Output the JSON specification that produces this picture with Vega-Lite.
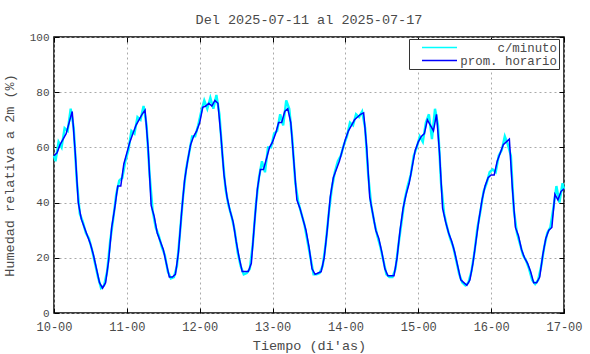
{
"$schema":"https://vega.github.io/schema/vega-lite/v6.json",
"width":510,"height":276,
"autosize":{"type":"none"},
"padding":{"left":54,"top":37,"right":26,"bottom":41},
"background":"white",
"title":{"text":"Del 2025-07-11 al 2025-07-17","font":"Liberation Mono","fontSize":13.5,"fontWeight":"normal","color":"#4a4a4a","anchor":"middle","offset":5},
"config":{"view":{"stroke":"black","strokeWidth":1.5},
"axis":{"labelFont":"Liberation Mono","titleFont":"Liberation Mono","labelColor":"#4a4a4a","titleColor":"#4a4a4a","titleFontWeight":"normal","domain":false,"tickColor":"black","tickSize":-5,"gridColor":"#aaaaaa","gridDash":[2,3],"labelFontWeight":"normal"}},
"datasets":{
"horario":[
{"t":"2025-07-10T00:00Z","h":57},{"t":"2025-07-10T01:00Z","h":58},{"t":"2025-07-10T02:00Z","h":61},{"t":"2025-07-10T03:00Z","h":63},{"t":"2025-07-10T04:00Z","h":65},{"t":"2025-07-10T05:00Z","h":69},{"t":"2025-07-10T06:00Z","h":73},{"t":"2025-07-10T07:00Z","h":58},{"t":"2025-07-10T08:00Z","h":40},{"t":"2025-07-10T09:00Z","h":34},{"t":"2025-07-10T10:00Z","h":31},{"t":"2025-07-10T11:00Z","h":28},{"t":"2025-07-10T12:00Z","h":25},{"t":"2025-07-10T13:00Z","h":21},{"t":"2025-07-10T14:00Z","h":16},{"t":"2025-07-10T15:00Z","h":11},{"t":"2025-07-10T16:00Z","h":9},{"t":"2025-07-10T17:00Z","h":11},{"t":"2025-07-10T18:00Z","h":19},{"t":"2025-07-10T19:00Z","h":31},{"t":"2025-07-10T20:00Z","h":38},{"t":"2025-07-10T21:00Z","h":46},{"t":"2025-07-10T22:00Z","h":46},{"t":"2025-07-10T23:00Z","h":54},
{"t":"2025-07-11T00:00Z","h":58},{"t":"2025-07-11T01:00Z","h":62},{"t":"2025-07-11T02:00Z","h":65},{"t":"2025-07-11T03:00Z","h":68},{"t":"2025-07-11T04:00Z","h":70},{"t":"2025-07-11T05:00Z","h":72},{"t":"2025-07-11T06:00Z","h":73.5},{"t":"2025-07-11T07:00Z","h":60},{"t":"2025-07-11T08:00Z","h":39},{"t":"2025-07-11T09:00Z","h":35},{"t":"2025-07-11T10:00Z","h":29},{"t":"2025-07-11T11:00Z","h":26},{"t":"2025-07-11T12:00Z","h":23},{"t":"2025-07-11T13:00Z","h":18},{"t":"2025-07-11T14:00Z","h":13},{"t":"2025-07-11T15:00Z","h":13},{"t":"2025-07-11T16:00Z","h":14},{"t":"2025-07-11T17:00Z","h":22},{"t":"2025-07-11T18:00Z","h":36},{"t":"2025-07-11T19:00Z","h":48},{"t":"2025-07-11T20:00Z","h":55},{"t":"2025-07-11T21:00Z","h":61},{"t":"2025-07-11T22:00Z","h":64},{"t":"2025-07-11T23:00Z","h":66},
{"t":"2025-07-12T00:00Z","h":69},{"t":"2025-07-12T01:00Z","h":74.5},{"t":"2025-07-12T02:00Z","h":75},{"t":"2025-07-12T03:00Z","h":76},{"t":"2025-07-12T04:00Z","h":75},{"t":"2025-07-12T05:00Z","h":77},{"t":"2025-07-12T06:00Z","h":76},{"t":"2025-07-12T07:00Z","h":64},{"t":"2025-07-12T08:00Z","h":50},{"t":"2025-07-12T09:00Z","h":42},{"t":"2025-07-12T10:00Z","h":37},{"t":"2025-07-12T11:00Z","h":33},{"t":"2025-07-12T12:00Z","h":26},{"t":"2025-07-12T13:00Z","h":20},{"t":"2025-07-12T14:00Z","h":15},{"t":"2025-07-12T15:00Z","h":15},{"t":"2025-07-12T16:00Z","h":15},{"t":"2025-07-12T17:00Z","h":18},{"t":"2025-07-12T18:00Z","h":32},{"t":"2025-07-12T19:00Z","h":45},{"t":"2025-07-12T20:00Z","h":52},{"t":"2025-07-12T21:00Z","h":52},{"t":"2025-07-12T22:00Z","h":56},{"t":"2025-07-12T23:00Z","h":60},
{"t":"2025-07-13T00:00Z","h":62},{"t":"2025-07-13T01:00Z","h":65},{"t":"2025-07-13T02:00Z","h":69},{"t":"2025-07-13T03:00Z","h":69},{"t":"2025-07-13T04:00Z","h":73},{"t":"2025-07-13T05:00Z","h":74},{"t":"2025-07-13T06:00Z","h":69},{"t":"2025-07-13T07:00Z","h":55},{"t":"2025-07-13T08:00Z","h":41},{"t":"2025-07-13T09:00Z","h":38},{"t":"2025-07-13T10:00Z","h":34},{"t":"2025-07-13T11:00Z","h":30},{"t":"2025-07-13T12:00Z","h":24},{"t":"2025-07-13T13:00Z","h":16},{"t":"2025-07-13T14:00Z","h":14},{"t":"2025-07-13T15:00Z","h":14.5},{"t":"2025-07-13T16:00Z","h":15},{"t":"2025-07-13T17:00Z","h":20},{"t":"2025-07-13T18:00Z","h":30},{"t":"2025-07-13T19:00Z","h":42},{"t":"2025-07-13T20:00Z","h":49},{"t":"2025-07-13T21:00Z","h":52},{"t":"2025-07-13T22:00Z","h":55},{"t":"2025-07-13T23:00Z","h":59},
{"t":"2025-07-14T00:00Z","h":63},{"t":"2025-07-14T01:00Z","h":66},{"t":"2025-07-14T02:00Z","h":68},{"t":"2025-07-14T03:00Z","h":70},{"t":"2025-07-14T04:00Z","h":71},{"t":"2025-07-14T05:00Z","h":72},{"t":"2025-07-14T06:00Z","h":72.5},{"t":"2025-07-14T07:00Z","h":60},{"t":"2025-07-14T08:00Z","h":42},{"t":"2025-07-14T09:00Z","h":36},{"t":"2025-07-14T10:00Z","h":30},{"t":"2025-07-14T11:00Z","h":27},{"t":"2025-07-14T12:00Z","h":22},{"t":"2025-07-14T13:00Z","h":16},{"t":"2025-07-14T14:00Z","h":13.5},{"t":"2025-07-14T15:00Z","h":13.5},{"t":"2025-07-14T16:00Z","h":13.5},{"t":"2025-07-14T17:00Z","h":20},{"t":"2025-07-14T18:00Z","h":30},{"t":"2025-07-14T19:00Z","h":38},{"t":"2025-07-14T20:00Z","h":43},{"t":"2025-07-14T21:00Z","h":47},{"t":"2025-07-14T22:00Z","h":53},{"t":"2025-07-14T23:00Z","h":59},
{"t":"2025-07-15T00:00Z","h":62},{"t":"2025-07-15T01:00Z","h":64},{"t":"2025-07-15T02:00Z","h":65},{"t":"2025-07-15T03:00Z","h":70},{"t":"2025-07-15T04:00Z","h":68},{"t":"2025-07-15T05:00Z","h":66},{"t":"2025-07-15T06:00Z","h":72},{"t":"2025-07-15T07:00Z","h":58},{"t":"2025-07-15T08:00Z","h":38},{"t":"2025-07-15T09:00Z","h":33},{"t":"2025-07-15T10:00Z","h":29},{"t":"2025-07-15T11:00Z","h":26},{"t":"2025-07-15T12:00Z","h":22},{"t":"2025-07-15T13:00Z","h":17},{"t":"2025-07-15T14:00Z","h":12},{"t":"2025-07-15T15:00Z","h":11},{"t":"2025-07-15T16:00Z","h":10},{"t":"2025-07-15T17:00Z","h":12},{"t":"2025-07-15T18:00Z","h":18},{"t":"2025-07-15T19:00Z","h":26},{"t":"2025-07-15T20:00Z","h":34},{"t":"2025-07-15T21:00Z","h":41},{"t":"2025-07-15T22:00Z","h":46},{"t":"2025-07-15T23:00Z","h":49},
{"t":"2025-07-16T00:00Z","h":50},{"t":"2025-07-16T01:00Z","h":50},{"t":"2025-07-16T02:00Z","h":55},{"t":"2025-07-16T03:00Z","h":58},{"t":"2025-07-16T04:00Z","h":61},{"t":"2025-07-16T05:00Z","h":62},{"t":"2025-07-16T06:00Z","h":63},{"t":"2025-07-16T07:00Z","h":45},{"t":"2025-07-16T08:00Z","h":31},{"t":"2025-07-16T09:00Z","h":28},{"t":"2025-07-16T10:00Z","h":23},{"t":"2025-07-16T11:00Z","h":20},{"t":"2025-07-16T12:00Z","h":18},{"t":"2025-07-16T13:00Z","h":15},{"t":"2025-07-16T14:00Z","h":11},{"t":"2025-07-16T15:00Z","h":11},{"t":"2025-07-16T16:00Z","h":13},{"t":"2025-07-16T17:00Z","h":21},{"t":"2025-07-16T18:00Z","h":27},{"t":"2025-07-16T19:00Z","h":30},{"t":"2025-07-16T20:00Z","h":31},{"t":"2025-07-16T21:00Z","h":43},{"t":"2025-07-16T22:00Z","h":41},{"t":"2025-07-16T23:00Z","h":44},
{"t":"2025-07-17T00:00Z","h":45}
],
"minuto":[
{"t":"2025-07-10T00:00Z","h":57},
{"t":"2025-07-10T00:30Z","h":55},{"t":"2025-07-10T01:30Z","h":62},{"t":"2025-07-10T02:30Z","h":60},{"t":"2025-07-10T03:30Z","h":67},{"t":"2025-07-10T04:30Z","h":66},{"t":"2025-07-10T05:30Z","h":74},{"t":"2025-07-10T06:30Z","h":67},{"t":"2025-07-10T07:30Z","h":48},{"t":"2025-07-10T08:30Z","h":36},{"t":"2025-07-10T09:30Z","h":33},{"t":"2025-07-10T10:30Z","h":29},{"t":"2025-07-10T11:30Z","h":27},{"t":"2025-07-10T12:30Z","h":23},{"t":"2025-07-10T13:30Z","h":18},{"t":"2025-07-10T14:30Z","h":13},{"t":"2025-07-10T15:30Z","h":9},{"t":"2025-07-10T16:30Z","h":10},{"t":"2025-07-10T17:30Z","h":15},{"t":"2025-07-10T18:30Z","h":26},{"t":"2025-07-10T19:30Z","h":34},{"t":"2025-07-10T20:30Z","h":43},{"t":"2025-07-10T21:30Z","h":48},{"t":"2025-07-10T22:30Z","h":49},{"t":"2025-07-10T23:30Z","h":55},
{"t":"2025-07-11T00:30Z","h":59},{"t":"2025-07-11T01:30Z","h":66},{"t":"2025-07-11T02:30Z","h":65},{"t":"2025-07-11T03:30Z","h":71},{"t":"2025-07-11T04:30Z","h":70},{"t":"2025-07-11T05:30Z","h":75},{"t":"2025-07-11T06:30Z","h":68},{"t":"2025-07-11T07:30Z","h":50},{"t":"2025-07-11T08:30Z","h":37},{"t":"2025-07-11T09:30Z","h":31},{"t":"2025-07-11T10:30Z","h":28},{"t":"2025-07-11T11:30Z","h":24},{"t":"2025-07-11T12:30Z","h":21},{"t":"2025-07-11T13:30Z","h":15},{"t":"2025-07-11T14:30Z","h":12.5},{"t":"2025-07-11T15:30Z","h":13},{"t":"2025-07-11T16:30Z","h":17},{"t":"2025-07-11T17:30Z","h":29},{"t":"2025-07-11T18:30Z","h":42},{"t":"2025-07-11T19:30Z","h":52},{"t":"2025-07-11T20:30Z","h":58},{"t":"2025-07-11T21:30Z","h":64},{"t":"2025-07-11T22:30Z","h":64},{"t":"2025-07-11T23:30Z","h":68},
{"t":"2025-07-12T00:30Z","h":73},{"t":"2025-07-12T01:30Z","h":77},{"t":"2025-07-12T02:30Z","h":74},{"t":"2025-07-12T03:30Z","h":78},{"t":"2025-07-12T04:30Z","h":74},{"t":"2025-07-12T05:30Z","h":79},{"t":"2025-07-12T06:30Z","h":72},{"t":"2025-07-12T07:30Z","h":57},{"t":"2025-07-12T08:30Z","h":45},{"t":"2025-07-12T09:30Z","h":39},{"t":"2025-07-12T10:30Z","h":35},{"t":"2025-07-12T11:30Z","h":30},{"t":"2025-07-12T12:30Z","h":22},{"t":"2025-07-12T13:30Z","h":17},{"t":"2025-07-12T14:30Z","h":14},{"t":"2025-07-12T15:30Z","h":14.5},{"t":"2025-07-12T16:30Z","h":16},{"t":"2025-07-12T17:30Z","h":25},{"t":"2025-07-12T18:30Z","h":39},{"t":"2025-07-12T19:30Z","h":49},{"t":"2025-07-12T20:30Z","h":55},{"t":"2025-07-12T21:30Z","h":51},{"t":"2025-07-12T22:30Z","h":60},{"t":"2025-07-12T23:30Z","h":60},
{"t":"2025-07-13T00:30Z","h":65},{"t":"2025-07-13T01:30Z","h":66},{"t":"2025-07-13T02:30Z","h":72},{"t":"2025-07-13T03:30Z","h":68},{"t":"2025-07-13T04:30Z","h":77},{"t":"2025-07-13T05:30Z","h":74},{"t":"2025-07-13T06:30Z","h":63},{"t":"2025-07-13T07:30Z","h":47},{"t":"2025-07-13T08:30Z","h":40},{"t":"2025-07-13T09:30Z","h":36},{"t":"2025-07-13T10:30Z","h":32},{"t":"2025-07-13T11:30Z","h":26},{"t":"2025-07-13T12:30Z","h":20},{"t":"2025-07-13T13:30Z","h":14},{"t":"2025-07-13T14:30Z","h":14},{"t":"2025-07-13T15:30Z","h":14.5},{"t":"2025-07-13T16:30Z","h":17},{"t":"2025-07-13T17:30Z","h":25},{"t":"2025-07-13T18:30Z","h":36},{"t":"2025-07-13T19:30Z","h":45},{"t":"2025-07-13T20:30Z","h":51},{"t":"2025-07-13T21:30Z","h":55},{"t":"2025-07-13T22:30Z","h":57},{"t":"2025-07-13T23:30Z","h":61},
{"t":"2025-07-14T00:30Z","h":64},{"t":"2025-07-14T01:30Z","h":69},{"t":"2025-07-14T02:30Z","h":68},{"t":"2025-07-14T03:30Z","h":72},{"t":"2025-07-14T04:30Z","h":71},{"t":"2025-07-14T05:30Z","h":73},{"t":"2025-07-14T06:30Z","h":67},{"t":"2025-07-14T07:30Z","h":50},{"t":"2025-07-14T08:30Z","h":39},{"t":"2025-07-14T09:30Z","h":33},{"t":"2025-07-14T10:30Z","h":28},{"t":"2025-07-14T11:30Z","h":24},{"t":"2025-07-14T12:30Z","h":19},{"t":"2025-07-14T13:30Z","h":14},{"t":"2025-07-14T14:30Z","h":13},{"t":"2025-07-14T15:30Z","h":13},{"t":"2025-07-14T16:30Z","h":16},{"t":"2025-07-14T17:30Z","h":25},{"t":"2025-07-14T18:30Z","h":33},{"t":"2025-07-14T19:30Z","h":41},{"t":"2025-07-14T20:30Z","h":46},{"t":"2025-07-14T21:30Z","h":50},{"t":"2025-07-14T22:30Z","h":57},{"t":"2025-07-14T23:30Z","h":60},
{"t":"2025-07-15T00:30Z","h":64},{"t":"2025-07-15T01:30Z","h":62},{"t":"2025-07-15T02:30Z","h":69},{"t":"2025-07-15T03:30Z","h":72},{"t":"2025-07-15T04:30Z","h":63},{"t":"2025-07-15T05:30Z","h":74},{"t":"2025-07-15T06:30Z","h":68},{"t":"2025-07-15T07:30Z","h":47},{"t":"2025-07-15T08:30Z","h":36},{"t":"2025-07-15T09:30Z","h":31},{"t":"2025-07-15T10:30Z","h":27},{"t":"2025-07-15T11:30Z","h":24},{"t":"2025-07-15T12:30Z","h":19},{"t":"2025-07-15T13:30Z","h":14},{"t":"2025-07-15T14:30Z","h":11},{"t":"2025-07-15T15:30Z","h":10},{"t":"2025-07-15T16:30Z","h":11},{"t":"2025-07-15T17:30Z","h":15},{"t":"2025-07-15T18:30Z","h":22},{"t":"2025-07-15T19:30Z","h":31},{"t":"2025-07-15T20:30Z","h":37},{"t":"2025-07-15T21:30Z","h":44},{"t":"2025-07-15T22:30Z","h":47},{"t":"2025-07-15T23:30Z","h":51},
{"t":"2025-07-16T00:30Z","h":52},{"t":"2025-07-16T01:30Z","h":51},{"t":"2025-07-16T02:30Z","h":57},{"t":"2025-07-16T03:30Z","h":59},{"t":"2025-07-16T04:30Z","h":64},{"t":"2025-07-16T05:30Z","h":61},{"t":"2025-07-16T06:30Z","h":57},{"t":"2025-07-16T07:30Z","h":37},{"t":"2025-07-16T08:30Z","h":29},{"t":"2025-07-16T09:30Z","h":25},{"t":"2025-07-16T10:30Z","h":21},{"t":"2025-07-16T11:30Z","h":19},{"t":"2025-07-16T12:30Z","h":16},{"t":"2025-07-16T13:30Z","h":12},{"t":"2025-07-16T14:30Z","h":10.5},{"t":"2025-07-16T15:30Z","h":12},{"t":"2025-07-16T16:30Z","h":17},{"t":"2025-07-16T17:30Z","h":24},{"t":"2025-07-16T18:30Z","h":29},{"t":"2025-07-16T19:30Z","h":31},{"t":"2025-07-16T20:30Z","h":38},{"t":"2025-07-16T21:30Z","h":46},{"t":"2025-07-16T22:30Z","h":40},{"t":"2025-07-16T23:30Z","h":47},
{"t":"2025-07-17T00:00Z","h":45}
]},
"layer":[
{"data":{"name":"minuto"},
"mark":{"type":"line","strokeWidth":2.4},
"encoding":{
"x":{"field":"t","type":"temporal","scale":{"type":"utc","domain":[{"year":2025,"month":"Jul","date":10,"utc":true},{"year":2025,"month":"Jul","date":17,"utc":true}]},
"axis":{"orient":"bottom","values":[{"year":2025,"month":"Jul","date":10,"utc":true},{"year":2025,"month":"Jul","date":11,"utc":true},{"year":2025,"month":"Jul","date":12,"utc":true},{"year":2025,"month":"Jul","date":13,"utc":true},{"year":2025,"month":"Jul","date":14,"utc":true},{"year":2025,"month":"Jul","date":15,"utc":true},{"year":2025,"month":"Jul","date":16,"utc":true},{"year":2025,"month":"Jul","date":17,"utc":true}],"labelExpr":"utcFormat(datum.value, '%d-%H')","labelFontSize":12,"labelPadding":13,"labelAngle":0,"labelFlush":false,"labelOverlap":false,"title":"Tiempo (di'as)","titleFontSize":13.5,"titlePadding":6,"grid":true}},
"y":{"field":"h","type":"quantitative","scale":{"domain":[0,100],"nice":false,"zero":false},
"axis":{"orient":"left","values":[0,20,40,60,80,100],"labelFontSize":11,"labelPadding":10,"title":"Humedad relativa a 2m (%)","titleFontSize":13.5,"titlePadding":13,"grid":true}},
"color":{"datum":"c/minuto","scale":{"domain":["c/minuto","prom. horario"],"range":["#00ffff","#0000ff"]},
"legend":{"title":null,"orient":"none","legendX":355,"legendY":2,"symbolType":"M-3,0H3","symbolSize":136,"symbolStrokeWidth":1.3,"labelFont":"Liberation Mono","labelFontSize":12.4,"labelColor":"#4a4a4a","labelAlign":"right","labelOffset":111,"strokeColor":"#333333","fillColor":"white","padding":2,"symbolOffset":22,"rowPadding":-1.5}}}},
{"data":{"name":"horario"},
"mark":{"type":"line","strokeWidth":1.5},
"encoding":{
"x":{"field":"t","type":"temporal","axis":{"orient":"top","values":[{"year":2025,"month":"Jul","date":10,"utc":true},{"year":2025,"month":"Jul","date":11,"utc":true},{"year":2025,"month":"Jul","date":12,"utc":true},{"year":2025,"month":"Jul","date":13,"utc":true},{"year":2025,"month":"Jul","date":14,"utc":true},{"year":2025,"month":"Jul","date":15,"utc":true},{"year":2025,"month":"Jul","date":16,"utc":true},{"year":2025,"month":"Jul","date":17,"utc":true}],"labels":false,"grid":false,"title":null}},
"y":{"field":"h","type":"quantitative","axis":{"orient":"right","values":[0,20,40,60,80,100],"labels":false,"grid":false,"title":null}},
"color":{"datum":"prom. horario"}}}
],
"resolve":{"axis":{"x":"independent","y":"independent"}}
}
